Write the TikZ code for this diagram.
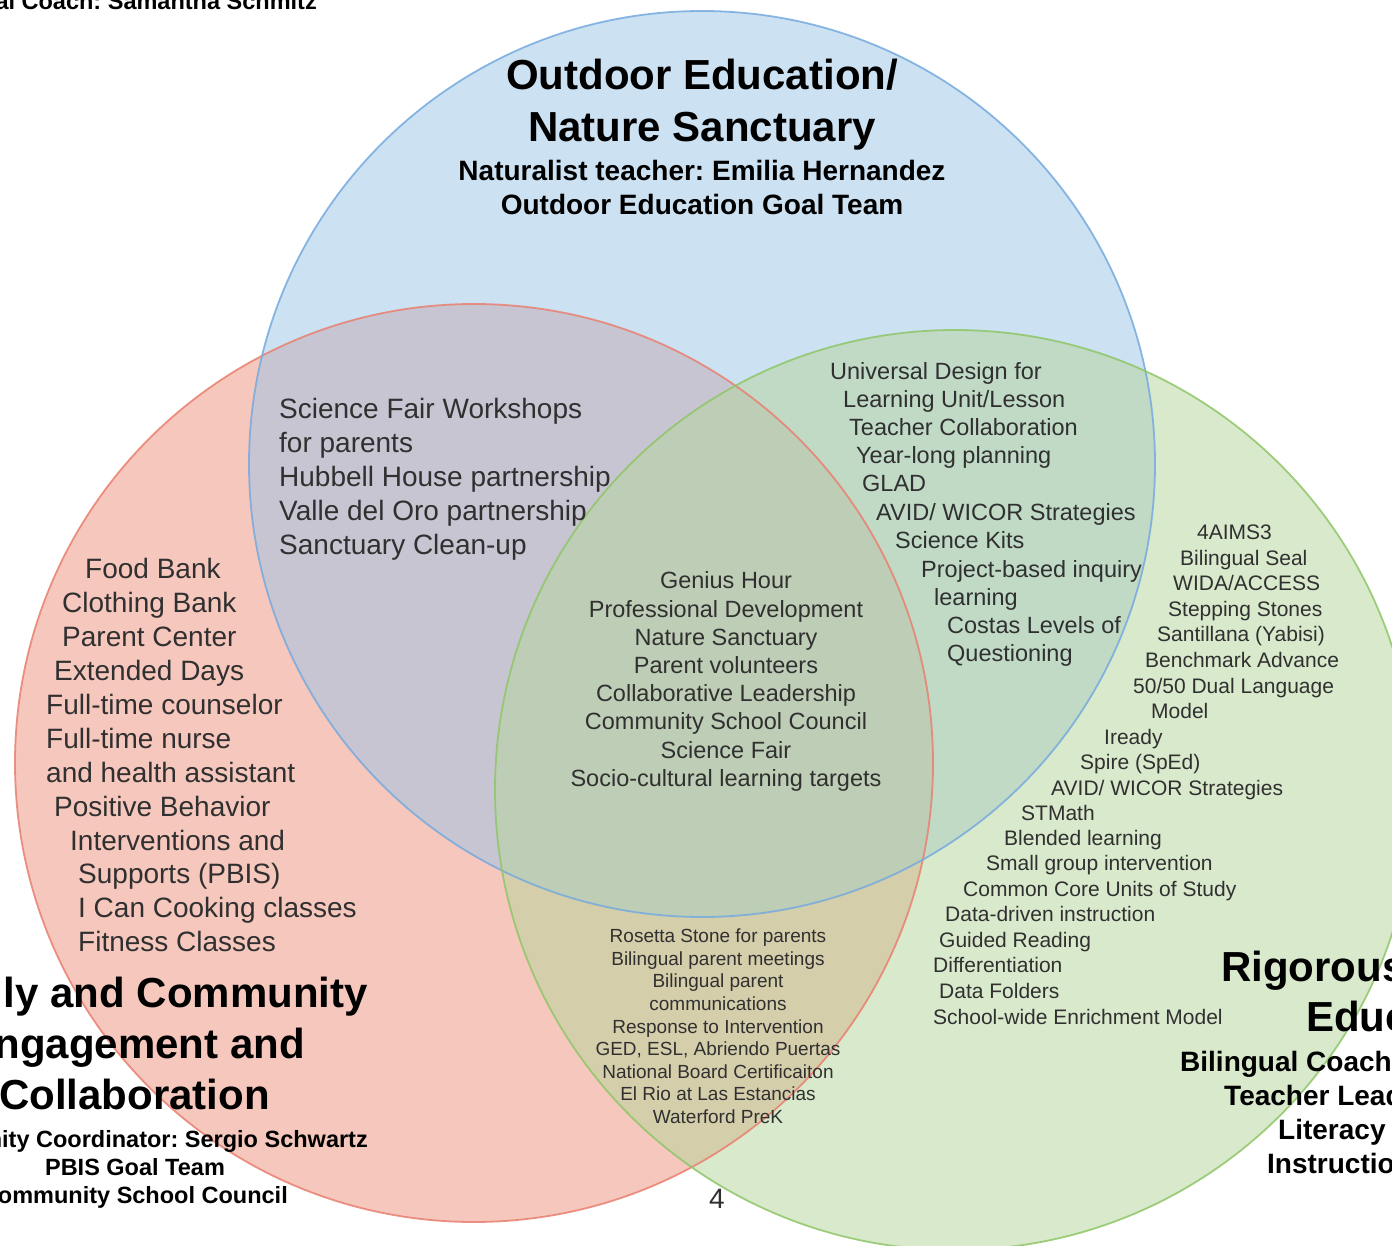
\documentclass[tikz,border=0pt]{standalone}
\usepackage{fontspec}
\setmainfont{Liberation Sans}
\usepackage{tikz}
\usetikzlibrary{positioning}
\frenchspacing

\definecolor{natureblue}{RGB}{155,197,231}
\definecolor{natureline}{RGB}{118,170,222}
\definecolor{familyred}{RGB}{239,145,125}
\definecolor{familyline}{RGB}{233,128,112}
\definecolor{rigorgreen}{RGB}{181,213,155}
\definecolor{rigorline}{RGB}{143,198,104}
\definecolor{listgray}{RGB}{48,48,48}

\tikzset{
  ring/.style={fill opacity=0.5},
  rim/.style={line width=1.8pt, draw opacity=0.85},
  big/.style={font=\fontsize{42}{52}\selectfont\bfseries, text=black, inner sep=0pt, yshift=-12pt},
  lead/.style={font=\fontsize{28}{34}\selectfont\bfseries, text=black, inner sep=0pt, yshift=-8pt},
  leadsmall/.style={font=\fontsize{23.5}{28}\selectfont\bfseries, text=black, inner sep=0pt, yshift=-7pt},
  itemL/.style={font=\fontsize{28}{34}\selectfont, text=listgray, inner sep=0pt, yshift=-8pt},
  itemM/.style={font=\fontsize{23.5}{28}\selectfont, text=listgray, inner sep=0pt, yshift=-6pt},
  itemS/.style={font=\fontsize{21}{25}\selectfont, text=listgray, inner sep=0pt, yshift=-6pt},
  itemXS/.style={font=\fontsize{19}{23}\selectfont, text=listgray, inner sep=0pt, yshift=-5pt}
}

\begin{document}
\begin{tikzpicture}[x=1pt, y=-1pt]
    \useasboundingbox (0,0) rectangle (1392,1246);
    \clip (0,0) rectangle (1392,1246);
    \fill[white] (0,0) rectangle (1392,1246);

    % Circles
    \fill[familyred, ring] (474,763) circle (459);
    \fill[natureblue, ring] (702,464) circle (453);
    \fill[rigorgreen, ring] (955,790) circle (460);
    \draw[familyline, rim] (474,763) circle (459);
    \draw[natureline, rim] (702,464) circle (453);
    \draw[rigorline, rim] (955,790) circle (460);

    % Top circle: titles
    \node[leadsmall, anchor=mid east] (coach) at (317,0) {al Coach: Samantha Schmitz};
    \node[big, anchor=mid] (natTitleA) at (702,75) {Outdoor Education/};
    \node[big, anchor=mid] (natTitleB) at (702,127) {Nature Sanctuary};
    \node[lead, anchor=mid] (natLeadA) at (702,170) {Naturalist teacher: Emilia Hernandez};
    \node[lead, anchor=mid] (natLeadB) at (702,204) {Outdoor Education Goal Team};

    % Left circle: titles
    \node[big, anchor=mid east] (famTitleA) at (368,993) {ly and Community};
    \node[big, anchor=mid east] (famTitleB) at (305,1044) {ngagement and};
    \node[big, anchor=mid east] (famTitleC) at (270,1095) {Collaboration};
    \node[leadsmall, anchor=mid east] (famLeadA) at (368,1138) {nity Coordinator: Sergio Schwartz};
    \node[leadsmall, anchor=mid] (famLeadB) at (135,1166) {PBIS Goal Team};
    \node[leadsmall, anchor=mid east] (famLeadC) at (288,1194) {ommunity School Council};

    % Right circle: titles
    \node[big, anchor=mid west] (rigTitleA) at (1221,967) {Rigorous};
    \node[big, anchor=mid west] (rigTitleB) at (1306,1017) {Educ};
    \node[lead, anchor=mid west] (rigLeadA) at (1180,1061) {Bilingual Coach};
    \node[lead, anchor=mid west] (rigLeadB) at (1224,1095) {Teacher Lead};
    \node[lead, anchor=mid west] (rigLeadC) at (1278,1129) {Literacy};
    \node[lead, anchor=mid west] (rigLeadD) at (1267,1163) {Instructio};

    % Left circle: list
    \foreach \x/\y/\t [count=\i] in {85/568/Food Bank, 62/602/Clothing Bank,
        62/636/Parent Center, 54/670/Extended Days, 46/704/Full-time counselor,
        46/738/Full-time nurse, 46/772/and health assistant, 54/806/Positive Behavior,
        70/840/Interventions and, 78/873/Supports (PBIS), 78/907/I Can Cooking classes,
        78/941/Fitness Classes}
        \node[itemL, anchor=mid west] (fam-\i) at (\x,\y) {\t};

    % Left and top overlap
    \foreach \t [count=\i] in {Science Fair Workshops, for parents, Hubbell House partnership,
        Valle del Oro partnership, Sanctuary Clean-up}
        \node[itemL, anchor=mid west] (famnat-\i) at (279,374+34*\i) {\t};

    % Top and right overlap
    \foreach \x/\y/\t [count=\i] in {830/371/Universal Design for, 843/399/{Learning Unit/Lesson},
        849/427/Teacher Collaboration, 856/455/Year-long planning, 862/483/GLAD,
        876/512/{AVID/ WICOR Strategies}, 895/540/Science Kits, 921/569/Project-based inquiry,
        934/597/learning, 947/625/Costas Levels of, 947/653/Questioning}
        \node[itemM, anchor=mid west] (natrig-\i) at (\x,\y) {\t};

    % Center
    \foreach \t [count=\i] in {Genius Hour, Professional Development, Nature Sanctuary,
        Parent volunteers, Collaborative Leadership, Community School Council,
        Science Fair, Socio-cultural learning targets}
        \node[itemM, anchor=mid] (core-\i) at (726,552+28.2*\i) {\t};

    % Left and right overlap
    \foreach \t [count=\i] in {Rosetta Stone for parents, Bilingual parent meetings,
        Bilingual parent, communications, Response to Intervention,
        {GED, ESL, Abriendo Puertas}, National Board Certificaiton,
        El Rio at Las Estancias, Waterford PreK}
        \node[itemXS, anchor=mid] (famrig-\i) at (718,912.4+22.6*\i) {\t};

    % Right circle: list
    \foreach \x/\y/\t [count=\i] in {1197/531/4AIMS3, 1180/557/Bilingual Seal,
        1173/582/{WIDA/ACCESS}, 1168/608/Stepping Stones, 1157/633/Santillana (Yabisi),
        1145/659/Benchmark Advance, 1133/685/{50/50 Dual Language}, 1151/710/Model,
        1104/736/Iready, 1080/761/Spire (SpEd), 1051/787/{AVID/ WICOR Strategies},
        1021/812/STMath, 1004/837/Blended learning, 986/862/Small group intervention,
        963/888/Common Core Units of Study, 945/913/Data-driven instruction,
        939/939/Guided Reading, 933/964/Differentiation, 939/990/Data Folders,
        933/1016/School-wide Enrichment Model}
        \node[itemS, anchor=mid west] (rig-\i) at (\x,\y) {\t};

    % Page number
    \node[itemL, anchor=mid] (page) at (717,1198) {4};
\end{tikzpicture}
\end{document}
